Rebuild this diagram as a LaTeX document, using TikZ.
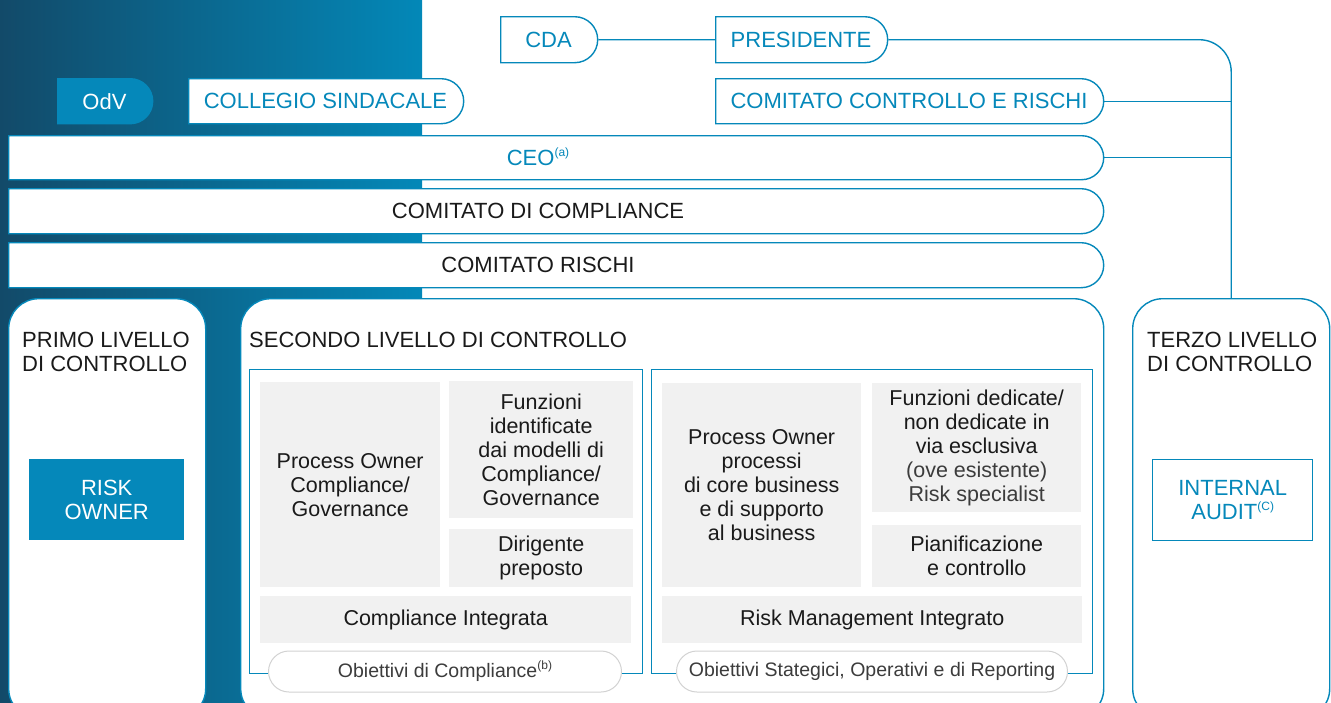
\documentclass[tikz,border=0pt]{standalone}
\usepackage{fontspec}
\setmainfont{Liberation Sans}
\usetikzlibrary{shapes.misc}
\definecolor{cblue}{HTML}{0588BA}
\definecolor{cdark}{HTML}{124A69}
\definecolor{cgradr}{HTML}{0388B8}
\definecolor{cgrey}{HTML}{F1F1F1}
\definecolor{cpill}{HTML}{D2D2D2}
\definecolor{ctext}{HTML}{1A1A1A}
\definecolor{clight}{HTML}{3C3C3C}
\newcommand\mysup[1]{\raisebox{0.75ex}{\fontsize{12}{12}\selectfont #1}}
\begin{document}
\begin{tikzpicture}[x=1pt,y=-1pt,
  halfpill/.style={rounded rectangle, rounded rectangle west arc=none, draw=cblue, line width=1.4pt, fill=white, anchor=north west, inner sep=0pt, text=cblue, font=\fontsize{22}{25}\selectfont},
  rowbox/.style={rounded rectangle, rounded rectangle west arc=none, draw=cblue, line width=1.4pt, fill=white, anchor=north west, inner sep=0pt, minimum width=1095pt},
  rowtext/.style={font=\fontsize{22}{25}\selectfont, text=ctext, inner sep=0pt},
  bigbox/.style={draw=cblue, line width=1.4pt, fill=white, rounded corners=30pt, anchor=north west, inner sep=0pt},
  title/.style={anchor=north west, align=left, inner sep=0pt, font=\fontsize{22}{24}\selectfont, text=ctext},
  inbox/.style={draw=cblue, line width=1.2pt, anchor=north west, inner sep=0pt},
  greybox/.style={fill=cgrey, anchor=north west, inner sep=0pt, align=center, font=\fontsize{21.5}{24}\selectfont, text=ctext},
  pill/.style={rounded rectangle, draw=cpill, line width=1pt, fill=white, anchor=west, inner sep=0pt, font=\fontsize{19.5}{22}\selectfont, text=clight, minimum height=41pt},
  conn/.style={draw=cblue, line width=1.4pt}
]
\useasboundingbox (0,0) rectangle (1331,702);
\clip (0,0) rectangle (1331,702);
\shade[left color=cdark, right color=cgradr] (0,0) rectangle (422,702);

% top boxes
\node[halfpill, minimum width=97pt, minimum height=46pt] (cda) at (500,16) {CDA};
\node[halfpill, minimum width=172pt, minimum height=46pt] (pres) at (715,16) {PRESIDENTE};
\node[halfpill, minimum width=95pt, minimum height=45pt, fill=cblue, text=white] (odv) at (57,78) {OdV};
\node[halfpill, minimum width=275pt, minimum height=45pt] (coll) at (188,78) {COLLEGIO SINDACALE};
\node[halfpill, minimum width=388pt, minimum height=45pt] (ccr) at (715,78) {COMITATO CONTROLLO E RISCHI};

% rows
\node[rowbox, minimum height=44pt] (ceo) at (8,135) {};
\node[rowtext, text=cblue] (ceotxt) at (538,157) {CEO\mysup{(a)}};
\node[rowbox, minimum height=45pt] (cdc) at (8,188) {};
\node[rowtext] (cdctxt) at (538,210.5) {COMITATO DI COMPLIANCE};
\node[rowbox, minimum height=45pt] (cr) at (8,242) {};
\node[rowtext] (crtxt) at (538,264.5) {COMITATO RISCHI};

% level boxes
\node[bigbox, minimum width=197pt, minimum height=420pt] (primo) at (8,298) {};
\node[bigbox, minimum width=863pt, minimum height=420pt] (secondo) at (240,298) {};
\node[bigbox, minimum width=197pt, minimum height=420pt] (terzo) at (1132,298) {};

\node[title] (primot) at (22,332) {PRIMO LIVELLO\\DI CONTROLLO};
\node[title] (secondot) at (249,332) {SECONDO LIVELLO DI CONTROLLO};
\node[title] (terzot) at (1147,332) {TERZO LIVELLO\\DI CONTROLLO};

\node[fill=cblue, anchor=north west, inner sep=0pt, minimum width=155pt, minimum height=81pt, align=center, text=white, font=\fontsize{22}{24}\selectfont] (risk) at (29,459) {RISK\\OWNER};
\node[draw=cblue, line width=1.4pt, fill=white, anchor=north west, inner sep=0pt, minimum width=160pt, minimum height=81pt, align=center, text=cblue, font=\fontsize{22}{24}\selectfont] (audit) at (1152,459) {INTERNAL\\AUDIT\mysup{(C)}};

% second level inner boxes
\node[inbox, minimum width=393pt, minimum height=304pt] (compbox) at (249,369) {};
\node[inbox, minimum width=441pt, minimum height=304pt] (riskbox) at (651,369) {};

\node[greybox, minimum width=180pt, minimum height=205pt] (poc) at (260,382) {Process Owner\\Compliance/\\Governance};
\node[greybox, minimum width=184pt, minimum height=137pt] (fic) at (449,381) {Funzioni\\identificate\\dai modelli di\\Compliance/\\Governance};
\node[greybox, minimum width=184pt, minimum height=58pt] (dp) at (449,529) {Dirigente\\preposto};
\node[greybox, minimum width=371pt, minimum height=47pt] (ci) at (260,596) {Compliance Integrata};

\node[greybox, minimum width=199pt, minimum height=204pt] (pop) at (662,383) {Process Owner\\processi\\di core business\\e di supporto\\al business};
\node[greybox, minimum width=209pt, minimum height=129pt] (fd) at (872,383) {Funzioni dedicate/\\non dedicate in\\via esclusiva\\{\color{clight}(ove esistente)}\\{\color{clight}Risk specialist}};
\node[greybox, minimum width=209pt, minimum height=62pt] (pc) at (872,525) {Pianificazione\\e controllo};
\node[greybox, minimum width=420pt, minimum height=47pt] (rmi) at (662,596) {Risk Management Integrato};

\node[pill, minimum width=353pt] (ob1) at (268,671.5) {Obiettivi di Compliance\mysup{(b)}};
\node[pill, minimum width=391pt] (ob2) at (676,671.5) {Obiettivi Stategici, Operativi e di Reporting};

% connectors
\draw[conn] (cda) -- (pres);
\draw[conn, rounded corners=32pt] (pres.east) -| (terzo.north);
\draw[conn] (ccr.east) -- (ccr.east -| terzo.north);
\draw[conn] (ceo.east) -- (ceo.east -| terzo.north);
\end{tikzpicture}
\end{document}
